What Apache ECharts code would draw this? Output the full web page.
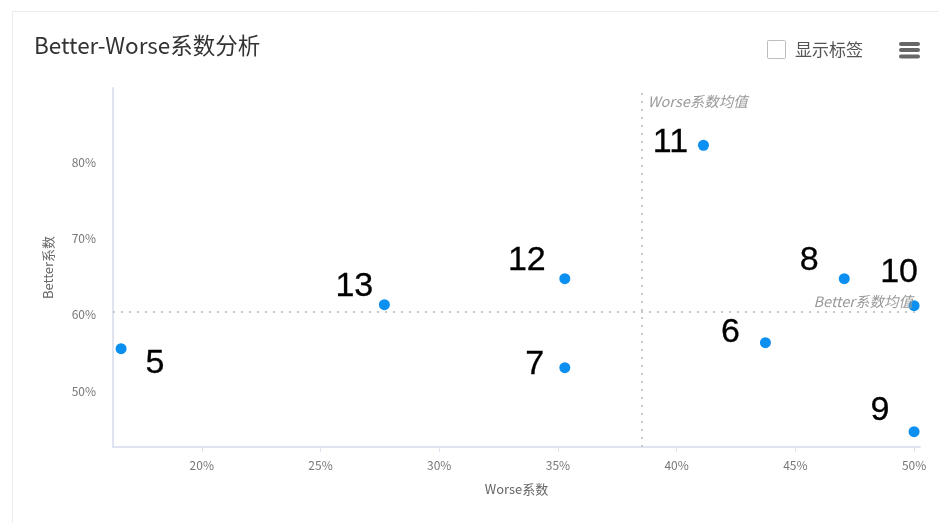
<!DOCTYPE html>
<html>
<head>
<meta charset="utf-8">
<script src="https://cdn.jsdelivr.net/npm/echarts@6/dist/echarts.min.js"></script>
<style>
html,body{margin:0;padding:0;background:#fff;}
#chart{width:939px;height:523px;}
</style>
</head>
<body>
<div id="chart"></div>
<script>
// ---- data ----
const pointNames = ['5', '13', '12', '7', '11', '6', '8', '10', '9'];
const worseValues = [16.60, 27.69, 35.29, 35.29, 41.13, 43.74, 47.06, 50.00, 50.00];
const betterValues = [55.54, 61.31, 64.72, 53.05, 82.20, 56.33, 64.72, 61.18, 44.67];
const titleText = 'Better-Worse系数分析';
const xAxisName = 'Worse系数';
const yAxisName = 'Better系数';
const worseMeanLabel = 'Worse系数均值';
const betterMeanLabel = 'Better系数均值';
const toggleText = '显示标签';

// ---- styling (label offsets per point name) ----
const labelOffsets = {
  '5': [34, 15], '13': [-30, -18], '12': [-38, -18], '7': [-30, -3],
  '11': [-33, -3], '6': [-35, -10], '8': [-35, -18], '10': [-15, -33], '9': [-34, -21]
};

const FONT = "'Noto Sans CJK SC', 'Noto Sans', sans-serif";
const chart = echarts.init(document.getElementById('chart'), null, {renderer: 'canvas'});

const seriesData = pointNames.map((n, i) => ({
  name: n,
  value: [worseValues[i], betterValues[i]],
  label: {offset: labelOffsets[n]}
}));

const option = {
  backgroundColor: '#fff',
  animation: false,
  title: {
    text: titleText, left: 29, top: 29,
    textStyle: {fontSize: 22.5, fontWeight: 'normal', color: '#333', fontFamily: FONT}
  },
  grid: {left: 113, right: 19, top: 88, bottom: 76, containLabel: false},
  xAxis: {
    type: 'value', min: 16.26, max: 50.25, splitNumber: 5,
    name: xAxisName, nameLocation: 'middle', nameGap: 36,
    nameTextStyle: {color: '#666', fontSize: 13, fontFamily: FONT},
    axisLine: {show: true, lineStyle: {color: '#e0e3f0', width: 2}},
    axisTick: {show: true, length: 5, lineStyle: {color: '#e0e3f0'}},
    axisLabel: {color: '#777', fontSize: 12, fontFamily: FONT, margin: 12,
      showMinLabel: false, showMaxLabel: false, formatter: '{value}%'},
    splitLine: {show: false}
  },
  yAxis: {
    type: 'value', min: 42.66, max: 89.7, splitNumber: 5,
    name: yAxisName, nameLocation: 'middle', nameGap: 58,
    nameTextStyle: {color: '#666', fontSize: 13, fontFamily: FONT},
    axisLine: {show: true, lineStyle: {color: '#e0e3f0', width: 2}},
    axisTick: {show: false},
    axisLabel: {color: '#777', fontSize: 12, fontFamily: FONT, margin: 17,
      showMinLabel: false, showMaxLabel: false, formatter: '{value}%'},
    splitLine: {show: false}
  },
  series: [{
    type: 'scatter',
    symbolSize: 11,
    itemStyle: {color: '#0b8ff0', opacity: 1},
    data: seriesData,
    label: {
      show: true, position: 'inside', formatter: '{b}',
      fontSize: 34, color: '#000', fontFamily: "'Liberation Sans', Arial, sans-serif",
      textBorderColor: '#000', textBorderWidth: 0.3,
      align: 'center', verticalAlign: 'middle'
    },
    markLine: {
      silent: true, symbol: 'none',
      lineStyle: {color: '#c8c8c8', type: [2, 6], width: 2},
      data: [
        {type: 'average', valueDim: 'x', name: 'worseMean', label: {show: false}},
        {type: 'average', valueDim: 'y', name: 'betterMean',
          label: {show: true, position: 'insideEndTop', formatter: betterMeanLabel,
            color: '#999', fontSize: 14.5, fontStyle: 'italic', fontFamily: FONT,
            distance: 3, padding: [0, 4, 0, 0]}}
      ]
    }
  }],
  graphic: [
    {type: 'rect', shape: {x: 12.5, y: 11.5, width: 1000, height: 600},
      style: {fill: 'none', stroke: '#ececec', lineWidth: 1}, silent: true, z: -1},
    {type: 'rect', shape: {x: 767.5, y: 40.5, width: 18, height: 18, r: 1},
      style: {fill: '#fff', stroke: '#bdbdbd', lineWidth: 1}},
    {type: 'text', x: 795, y: 50,
      style: {text: toggleText, fontSize: 17, fill: '#555', fontFamily: FONT, verticalAlign: 'middle'}},
    {type: 'rect', shape: {x: 899, y: 42, width: 21, height: 4, r: 2}, style: {fill: '#666'}},
    {type: 'rect', shape: {x: 899, y: 48, width: 21, height: 4, r: 2}, style: {fill: '#666'}},
    {type: 'rect', shape: {x: 899, y: 54.5, width: 21, height: 4, r: 2}, style: {fill: '#666'}}
  ]
};
chart.setOption(option);

// label for vertical mean line placed through the axis scale
const meanWorse = worseValues.reduce((a, b) => a + b, 0) / worseValues.length;
const topPx = chart.convertToPixel({gridIndex: 0}, [meanWorse, 89.7]);
chart.setOption({
  graphic: option.graphic.concat([{
    type: 'text', x: topPx[0] + 6, y: topPx[1] + 13,
    style: {text: worseMeanLabel, fontSize: 14.5, fontStyle: 'italic', fill: '#999',
      fontFamily: FONT, verticalAlign: 'middle'}
  }])
});
</script>
</body>
</html>
